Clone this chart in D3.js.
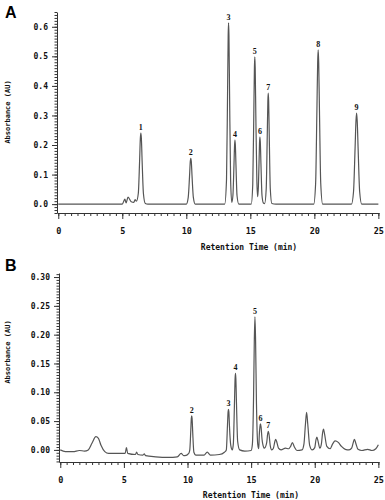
<!DOCTYPE html>
<html><head><meta charset="utf-8">
<script src="https://cdn.jsdelivr.net/npm/d3@7"></script>
<style>body{margin:0;background:#fff}svg{display:block}</style>
</head><body>
<svg id="c" width="385" height="500"></svg>
<script>
// ---- Data (time in min, absorbance in AU) ----
const traceA = [
[0,0],[4,0],[5.0,0],[5.2,0.017],[5.3,0.004],[5.45,0.024],[5.7,0.008],[5.9,0.006],[6.0,0.015],[6.1,0.01],
[6.25,0.036],[6.35,0.144],[6.41,0.223],[6.45,0.24],[6.49,0.223],[6.55,0.144],[6.65,0.036],[6.8,0.002],
[7,0],[10,0],
[10.15,0.023],[10.25,0.093],[10.31,0.144],[10.35,0.155],[10.39,0.144],[10.45,0.093],[10.55,0.023],[10.7,0],
[13.0,0],
[13.14,0.083],[13.22,0.368],[13.27,0.57],[13.3,0.613],[13.33,0.57],[13.38,0.368],[13.46,0.083],[13.55,0.006],
[13.64,0.029],[13.72,0.13],[13.77,0.2],[13.8,0.217],[13.83,0.2],[13.88,0.13],[13.96,0.029],[14.1,0],
[15.07,0],
[15.19,0.067],[15.27,0.3],[15.32,0.463],[15.35,0.498],[15.38,0.463],[15.43,0.3],[15.51,0.08],[15.57,0.025],
[15.63,0.06],[15.68,0.14],[15.72,0.21],[15.75,0.227],[15.78,0.21],[15.83,0.136],[15.91,0.03],[16.02,0.004],
[16.12,0.002],[16.24,0.051],[16.32,0.226],[16.37,0.35],[16.4,0.376],[16.43,0.35],[16.48,0.226],[16.56,0.051],[16.68,0.002],
[17,0],[19.95,0],
[20.1,0.07],[20.2,0.317],[20.26,0.48],[20.3,0.522],[20.34,0.48],[20.4,0.317],[20.5,0.07],[20.65,0],
[22.9,0],
[23.06,0.042],[23.18,0.187],[23.25,0.28],[23.3,0.308],[23.35,0.28],[23.42,0.187],[23.54,0.042],[23.7,0],
[25,0]
];
const peaksA = [
{label:"1",t:6.45,v:0.24},{label:"2",t:10.35,v:0.155},{label:"3",t:13.3,v:0.613},
{label:"4",t:13.8,v:0.217},{label:"5",t:15.35,v:0.498},{label:"6",t:15.75,v:0.227},
{label:"7",t:16.4,v:0.376},{label:"8",t:20.3,v:0.522},{label:"9",t:23.3,v:0.308}
];
const traceB = [
[0,0],[0.4,-0.003],[1.0,-0.003],[1.5,-0.001],[1.9,-0.002],[2.2,0],[2.5,0.012],[2.8,0.023],[3.0,0.02],[3.2,0.008],
[3.5,-0.003],[3.8,-0.006],[4.5,-0.006],[5.1,-0.006],[5.2,0.004],[5.3,-0.006],[5.9,-0.008],[6.0,-0.004],[6.1,-0.008],
[6.5,-0.009],[6.6,-0.007],[6.7,-0.01],[7.5,-0.012],[8.5,-0.013],[9.2,-0.012],[9.5,-0.006],[9.7,-0.01],[9.8,-0.01],[10.1,-0.006],
[10.18,0],[10.26,0.035],[10.3,0.055],[10.33,0.059],[10.36,0.055],[10.41,0.03],[10.5,-0.004],[10.65,-0.009],
[11.3,-0.009],[11.55,-0.004],[11.8,-0.009],[12.5,-0.008],[12.9,-0.004],
[13.05,0],[13.14,0.042],[13.19,0.066],[13.22,0.0705],[13.25,0.066],[13.3,0.04],[13.4,0.008],[13.52,0],
[13.6,0.01],[13.69,0.08],[13.74,0.124],[13.77,0.133],[13.8,0.124],[13.85,0.08],[13.94,0.015],[14.1,0],
[14.5,-0.002],[15.0,-0.001],
[15.1,0.01],[15.19,0.09],[15.25,0.19],[15.3,0.231],[15.35,0.19],[15.42,0.08],[15.52,0.01],[15.6,0.002],
[15.64,0.025],[15.69,0.04],[15.73,0.045],[15.78,0.04],[15.86,0.018],[16.0,0.004],
[16.05,0.003],[16.22,0.012],[16.3,0.028],[16.35,0.032],[16.4,0.028],[16.5,0.008],[16.62,0],
[16.75,0.003],[16.87,0.015],[16.93,0.0185],[17.0,0.015],[17.15,0.003],[17.35,0],
[17.7,0.003],[17.95,0.002],[18.1,0.006],[18.24,0.0127],[18.4,0.005],[18.6,-0.001],[19.0,0],
[19.15,0.01],[19.27,0.045],[19.36,0.065],[19.45,0.045],[19.6,0.008],[19.8,0],
[20.0,0.004],[20.1,0.018],[20.17,0.022],[20.25,0.016],[20.4,0.003],
[20.52,0.01],[20.62,0.03],[20.69,0.036],[20.77,0.028],[20.95,0.006],[21.2,0.002],
[21.4,0.01],[21.6,0.0155],[21.85,0.013],[22.1,0.006],[22.4,0.001],[22.7,0],
[22.9,0.003],[23.03,0.013],[23.12,0.0185],[23.22,0.012],[23.4,0.001],[23.7,-0.001],
[24.16,0.001],[24.5,-0.001],[24.8,0.002],[25.0,0.009]
];
const peaksB = [
{label:"2",t:10.33,v:0.059},{label:"3",t:13.22,v:0.0705},{label:"4",t:13.77,v:0.133},
{label:"5",t:15.3,v:0.231},{label:"6",t:15.73,v:0.045},{label:"7",t:16.35,v:0.032}
];
const xTicks = [0,5,10,15,20,25];
const yTicksA = [0,0.1,0.2,0.3,0.4,0.5,0.6];
const yTicksB = [0,0.05,0.1,0.15,0.2,0.25,0.3];
const xTitle = "Retention Time (min)";
const yTitle = "Absorbance (AU)";

// ---- Drawing ----
const svg = d3.select("#c");
const mono = "'DejaVu Sans Mono', monospace";

function panel(cfg){
  const g = svg.append("g");
  const x = d3.scaleLinear().domain([-0.1,25.05]).range(cfg.xr);
  const y = d3.scaleLinear().domain(cfg.yd).range(cfg.yr);
  const axY = cfg.xr[0], axX = cfg.yr[0];

  // minor y ticks
  const minorY = d3.range(Math.ceil(cfg.yd[0]/cfg.ym), Math.floor(cfg.yd[1]/cfg.ym)+1).map(i=>i*cfg.ym);
  g.append("g").attr("transform",`translate(${axY},0)`)
    .call(d3.axisLeft(y).tickValues(minorY).tickSize(2.5).tickFormat(""))
    .call(s=>s.select(".domain").remove());
  // major y
  const ya = g.append("g").attr("transform",`translate(${axY},0)`)
    .call(d3.axisLeft(y).tickValues(cfg.yt).tickSize(5).tickPadding(4).tickFormat(d3.format(cfg.yf)).tickSizeOuter(0));
  ya.selectAll("text").attr("font-family",mono).attr("font-weight","bold").attr("font-size",8).attr("fill","#111");
  // minor x
  g.append("g").attr("transform",`translate(0,${axX})`)
    .call(d3.axisBottom(x).tickValues(d3.range(0,51).map(i=>i*0.5)).tickSize(3).tickFormat(""))
    .call(s=>s.select(".domain").remove());
  const xa = g.append("g").attr("transform",`translate(0,${axX})`)
    .call(d3.axisBottom(x).tickValues(xTicks).tickSize(6).tickPadding(9).tickSizeOuter(0));
  xa.selectAll("text").attr("font-family",mono).attr("font-weight","bold").attr("font-size",8.5).attr("fill","#111");
  g.selectAll(".domain, .tick line").attr("stroke","#333");

  // trace
  const line = d3.line().x(d=>x(d[0])).y(d=>y(d[1])).curve(d3.curveMonotoneX);
  g.append("path").datum(cfg.trace).attr("d",line).attr("fill","none")
    .attr("stroke","#555").attr("stroke-width",1.2).attr("stroke-linejoin","round");

  // peak labels
  g.selectAll(".pl").data(cfg.peaks).join("text")
    .attr("x",d=>x(d.t)).attr("y",d=>y(d.v)-3).attr("text-anchor","middle")
    .attr("font-family","'Liberation Serif', serif").attr("font-weight","bold").attr("font-size",8)
    .attr("fill","#111").text(d=>d.label);

  // titles
  g.append("text").attr("x",cfg.xtx).attr("y",cfg.xty).attr("text-anchor","middle")
    .attr("font-family",mono).attr("font-weight","bold").attr("font-size",8).attr("fill","#111").text(xTitle);
  g.append("text").attr("transform",`translate(10,${cfg.ytc}) rotate(-90)`).attr("text-anchor","middle")
    .attr("font-family",mono).attr("font-weight","bold").attr("font-size",7).attr("fill","#111").text(yTitle);
  g.append("text").attr("x",5).attr("y",cfg.lby).attr("font-family","'Liberation Sans', Arial, sans-serif")
    .attr("font-weight","bold").attr("font-size",16).attr("fill","#000").text(cfg.letter);
}

panel({xr:[57,379], yd:[-0.03,0.65], yr:[213,12], ym:0.01, yt:yTicksA, yf:".1f",
  trace:traceA, peaks:peaksA, xtx:249, xty:250, ytc:112, lby:18, letter:"A"});
panel({xr:[59,379], yd:[-0.021,0.307], yr:[462,273], ym:0.005, yt:yTicksB, yf:".2f",
  trace:traceB, peaks:peaksB, xtx:251, xty:498, ytc:352, lby:271, letter:"B"});
</script>
</body></html>
